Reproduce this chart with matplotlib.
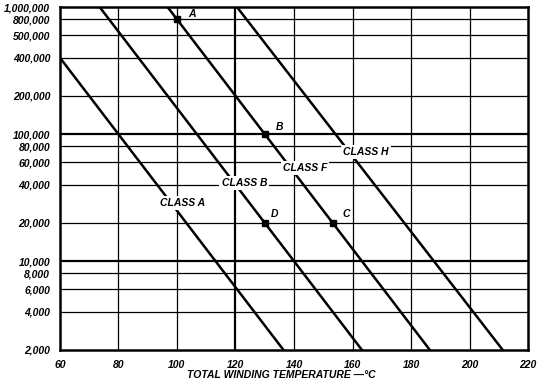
import matplotlib.pyplot as plt
import matplotlib.ticker as mticker

# curve end points (temperature degC, life hours)
class_a_t = [60, 136.4]
class_a_h = [400000, 2000]
class_b_t = [73.6, 163.2]
class_b_h = [1000000, 2000]
class_f_t = [96.8, 186.4]
class_f_h = [1000000, 2000]
class_h_t = [120.5, 211.3]
class_h_h = [1000000, 2000]

# marked points
pt_names = ["A", "B", "D", "C"]
pt_t = [100, 130, 130, 153.2]
pt_h = [800000, 100000, 20000, 20000]

y_ticks = [2000, 4000, 6000, 8000, 10000, 20000, 40000, 60000, 80000,
           100000, 200000, 400000, 600000, 800000, 1000000]
y_labels = ["2,000", "4,000", "6,000", "8,000", "10,000", "20,000", "40,000",
            "60,000", "80,000", "100,000", "200,000", "400,000", "500,000",
            "800,000", "1,000,000"]
x_ticks = [60, 80, 100, 120, 140, 160, 180, 200, 220]

plt.rcParams["font.family"] = ["Liberation Sans", "DejaVu Sans"]
font = dict(fontsize=7.5, fontweight="bold", fontstyle="italic")

fig = plt.figure(figsize=(5.44, 3.90), dpi=100)
ax = fig.add_axes([0.110, 0.1026, 0.861, 0.8794])
ax.set_yscale("log")
ax.set_xlim(60, 220)
ax.set_ylim(2000, 1000000)

# grid
for y in y_ticks[1:-1]:
    lw = 1.6 if y in (10000, 100000) else 0.9
    ax.axhline(y, color="black", lw=lw, zorder=1)
for x in x_ticks[1:-1]:
    lw = 1.6 if x == 120 else 0.9
    ax.axvline(x, color="black", lw=lw, zorder=1)

for t, h in [(class_a_t, class_a_h), (class_b_t, class_b_h),
             (class_f_t, class_f_h), (class_h_t, class_h_h)]:
    ax.plot(t, h, color="black", lw=1.8, zorder=2)

ax.plot(pt_t, pt_h, "s", color="black", ms=4, zorder=4)

box = dict(facecolor="white", edgecolor="none", pad=1.5)
ax.text(102, 28500, "CLASS A", ha="center", va="center", bbox=box, zorder=3, **font)
ax.text(123, 41000, "CLASS B", ha="center", va="center", bbox=box, zorder=3, **font)
ax.text(143.8, 54000, "CLASS F", ha="center", va="center", bbox=box, zorder=3, **font)
ax.text(164.5, 72000, "CLASS H", ha="center", va="center", bbox=box, zorder=3, **font)

ax.text(105, 880000, "A", ha="center", va="center", **font)
ax.text(135, 113000, "B", ha="center", va="center", **font)
ax.text(133.5, 23500, "D", ha="center", va="center", **font)
ax.text(158, 23500, "C", ha="center", va="center", **font)

ax.yaxis.set_major_locator(mticker.FixedLocator(y_ticks))
ax.yaxis.set_minor_locator(mticker.NullLocator())
ax.set_yticklabels(y_labels, **font)
ax.set_xticks(x_ticks)
ax.set_xticklabels([str(x) for x in x_ticks], **font)
ax.tick_params(length=0, pad=7)
for s in ax.spines.values():
    s.set_linewidth(1.8)

ax.set_xlabel("TOTAL WINDING TEMPERATURE \u2014\u00b0C", **font)
ax.xaxis.set_label_coords(0.472, -0.058)

fig.savefig("out.png", dpi=100)
